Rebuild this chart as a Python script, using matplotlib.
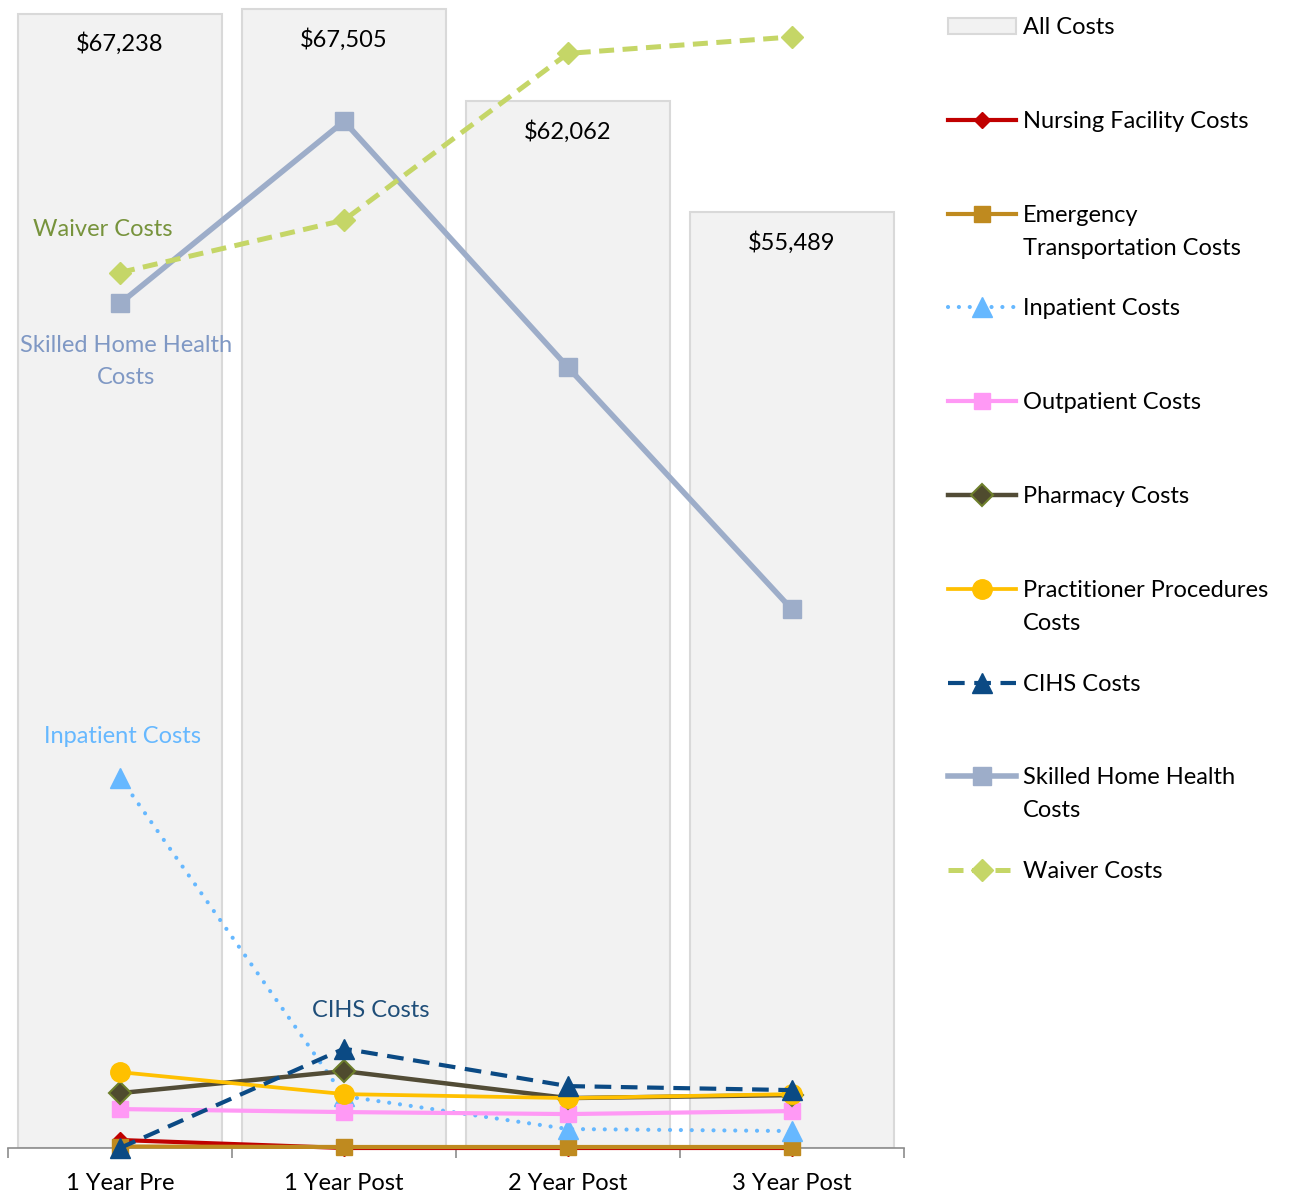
import numpy as np
import matplotlib.pyplot as plt
from matplotlib.patches import Rectangle

plt.rcParams['font.family'] = ['Lato', 'DejaVu Sans']

# Average annual cost per member, before and after enrollment
periods = ['1 Year Pre', '1 Year Post', '2 Year Post', '3 Year Post']
all_costs = [67238, 67505, 62062, 55489]

# Cost components (secondary axis)
nursing_facility = [160, 0, 0, 0]
emergency_transport = [30, 20, 20, 20]
inpatient = [7420, 1040, 380, 340]
outpatient = [780, 720, 680, 740]
pharmacy = [1100, 1540, 1000, 1060]
practitioner = [1520, 1080, 1000, 1080]
cihs = [0, 1990, 1240, 1160]
skilled_home_health = [16920, 20570, 15640, 10790]
waiver = [17540, 18590, 21930, 22260]

FS = 17

series = [
    ('Nursing Facility Costs', nursing_facility,
     dict(color='#C00000', lw=3.0, marker='D', ms=8)),
    ('Emergency\nTransportation Costs', emergency_transport,
     dict(color='#BF8A1F', lw=3.0, marker='s', ms=12)),
    ('Inpatient Costs', inpatient,
     dict(color='#66B8FF', lw=3.0, ls=(0, (0.01, 2.6)), dash_capstyle='round',
          marker='^', ms=14)),
    ('Outpatient Costs', outpatient,
     dict(color='#FF99F5', lw=3.0, marker='s', ms=12)),
    ('Pharmacy Costs', pharmacy,
     dict(color='#524C36', lw=3.2, marker='D', ms=11, mfc='#4F4B2E',
          mec='#6E7F2C', mew=1.5)),
    ('Practitioner Procedures\nCosts', practitioner,
     dict(color='#FFC000', lw=2.7, marker='o', ms=14)),
    ('CIHS Costs', cihs,
     dict(color='#0B4A84', lw=3.0, ls=(0, (4.0, 2.3)), marker='^', ms=14)),
    ('Skilled Home Health\nCosts', skilled_home_health,
     dict(color='#9DADC9', lw=4.0, marker='s', ms=13)),
    ('Waiver Costs', waiver,
     dict(color='#C5D667', lw=3.6, ls=(0, (3.0, 1.7)), marker='D', ms=11)),
]

fig = plt.figure(figsize=(12.96, 11.95), dpi=100)
ax = fig.add_axes([8 / 1296, 47 / 1195, 896 / 1296, 1148 / 1195])
x = np.arange(len(periods))

bars = ax.bar(x, all_costs, width=0.91, color='#F2F2F2', edgecolor='#D9D9D9',
              linewidth=1.5, zorder=1)
for xi, v in zip(x, all_costs):
    ax.annotate(f'${v:,}', (xi, v), xytext=(0, -30), textcoords='offset pixels',
                ha='center', va='center', fontsize=FS, color='black')

ax.set_xlim(-0.5, 3.5)
ax.set_ylim(0, 68065)
ax.set_xticks(x)
ax.set_xticklabels(periods, fontsize=FS)
ax.set_xticks(np.arange(-0.5, 4.0, 1.0), minor=True)
ax.tick_params(axis='x', which='major', length=0, pad=18)
ax.tick_params(axis='x', which='minor', length=7, color='#8C8C8C', width=1.2)
ax.set_yticks([])
for side in ['left', 'right', 'top']:
    ax.spines[side].set_visible(False)
ax.spines['bottom'].set_color('#8C8C8C')
ax.spines['bottom'].set_linewidth(1.2)

# Component lines on their own scale
ax2 = ax.twinx()
ax2.set_ylim(0, 23000)
ax2.set_yticks([])
for side in ['left', 'right', 'top', 'bottom']:
    ax2.spines[side].set_visible(False)
for label, vals, style in series:
    ax2.plot(x, vals, clip_on=False, **style)

# Direct labels next to the larger series
ax2.annotate('Waiver Costs', (x[0], waiver[0]), xytext=(-17, 43),
             textcoords='offset pixels', ha='center', va='center',
             fontsize=FS, color='#77933C')
ax2.annotate('Skilled Home Health\nCosts', (x[0], skilled_home_health[0]),
             xytext=(6, -58), textcoords='offset pixels', ha='center',
             va='center', fontsize=FS, color='#7F98C4', linespacing=1.6)
ax2.annotate('Inpatient Costs', (x[0], inpatient[0]), xytext=(3, 41),
             textcoords='offset pixels', ha='center', va='center',
             fontsize=FS, color='#66B8FF')
ax2.annotate('CIHS Costs', (x[1], cihs[1]), xytext=(27, 38),
             textcoords='offset pixels', ha='center', va='center',
             fontsize=FS, color='#1F4E79')

# Legend drawn in its own pixel-space axes
lax = fig.add_axes([930 / 1296, 0, 366 / 1296, 1])
lax.set_xlim(930, 1296)
lax.set_ylim(1195, 0)
lax.axis('off')

entry_y = 26 + 93.8 * np.arange(len(series) + 1)
lax.add_patch(Rectangle((948, entry_y[0] - 8), 68, 16, facecolor='#F2F2F2',
                        edgecolor='#D9D9D9', linewidth=1.5))
lax.text(1023, entry_y[0] + 1.5, 'All Costs', va='center', fontsize=FS)
for (label, vals, style), y in zip(series, entry_y[1:]):
    lax.plot([948, 982, 1016], [y, y, y], markevery=[1], **style)
    for k, part in enumerate(label.split('\n')):
        lax.text(1023, y + 1.5 + 33 * k, part, va='center', fontsize=FS)

fig.savefig('out.png', dpi=100)
